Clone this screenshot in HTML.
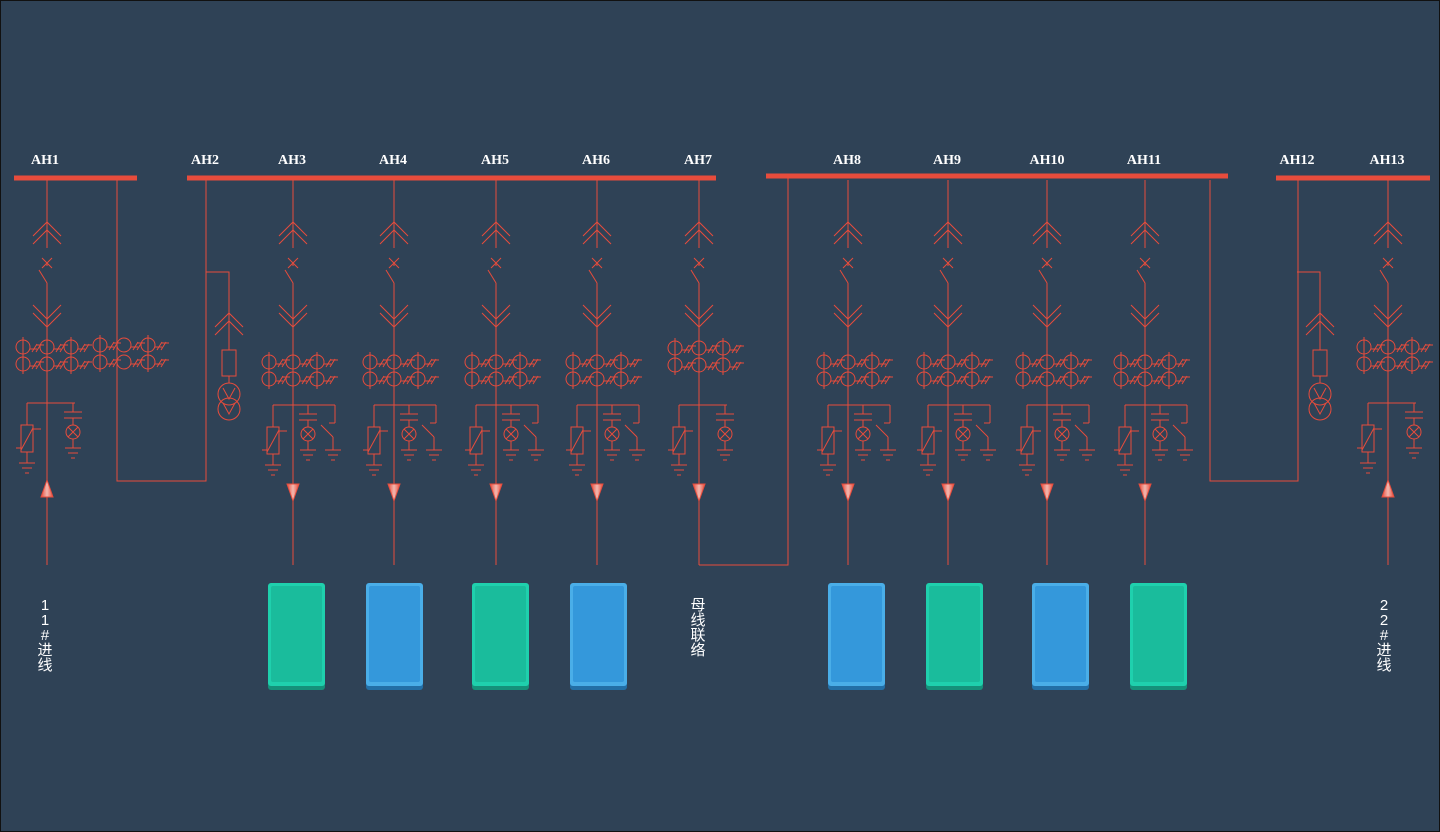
<!DOCTYPE html>
<html><head><meta charset="utf-8"><style>
html,body{margin:0;padding:0;background:#2f4256;}
svg{display:block}
.lbl{font-family:"Liberation Serif","Noto Serif CJK SC",serif;font-size:14px;font-weight:bold;fill:#fff}
.vt{font-family:"Liberation Sans","Noto Sans CJK SC",sans-serif;font-size:15px;fill:#fff}
</style></head><body>
<svg id="s" width="1440" height="832" xmlns="http://www.w3.org/2000/svg">
<defs>
<linearGradient id="tg" x1="0" x2="1"><stop offset="0" stop-color="#e74c3c"/><stop offset="0.5" stop-color="#f2b8b0"/><stop offset="1" stop-color="#e74c3c"/></linearGradient>
</defs>
<rect x="0.5" y="0.5" width="1439" height="831" fill="#2f4256" stroke="#111"/>
<g id="g" fill="none" stroke="#e74c3c" stroke-width="1"></g>
</svg>
<script>
const busBars=[[14,137,178],[187,716,178],[766,1228,176],[1276,1430,178]];
const labels=[["AH1",45],["AH2",205],["AH3",292],["AH4",393],["AH5",495],["AH6",596],["AH7",698],["AH8",847],["AH9",947],["AH10",1047],["AH11",1144],["AH12",1297],["AH13",1387]];
const feeders=[[293,362,1],[394,362,1],[496,362,1],[597,362,1],[699,348,0],[848,362,1],[948,362,1],[1047,362,1],[1145,362,1]];
const incomers=[47,1388];
const cabinets=[[268,"g"],[366,"b"],[472,"g"],[570,"b"],[828,"b"],[926,"g"],[1032,"b"],[1130,"g"]];
const S=document.getElementById('s'),G=document.getElementById('g');
const NS="http://www.w3.org/2000/svg";
function mk(t,a,p){const e=document.createElementNS(NS,t);for(const k in a)e.setAttribute(k,a[k]);(p||G).appendChild(e);return e;}
function L(x1,y1,x2,y2){return mk('line',{x1,y1,x2,y2});}
function P(d){return mk('path',{d});}
function C(cx,cy,r){return mk('circle',{cx,cy,r});}
busBars.forEach((b,i)=>{const r=mk('rect',{x:b[0],y:b[2]-2.5,width:b[1]-b[0],height:5,fill:'#e74c3c',stroke:'none'},S);

});
labels.forEach(l=>{const t=mk('text',{x:l[1],y:164,'text-anchor':'middle',class:'lbl'},S);t.textContent=l[0];

});
function upCh(x,y){P(`M${x-14},${y+14}L${x},${y}L${x+14},${y+14}M${x-14},${y+22}L${x},${y+8}L${x+14},${y+22}`);}
function dnCh(x,y){P(`M${x-14},${y}L${x},${y+14}L${x+14},${y}M${x-14},${y+8}L${x},${y+22}L${x+14},${y+8}`);}
function ct(x,y){for(let r=0;r<2;r++){const yy=y+r*17;[-24,0,24].forEach(dx=>{C(x+dx,yy,7);P(`M${x+dx+7},${yy+2}l7,0 M${x+dx+9},${yy+5}l5,-8 M${x+dx+13},${yy+5}l5,-8 M${x+dx+13},${yy-2}l8,0`);});}
L(x-24,y-10,x-24,y+27);L(x+24,y-10,x+24,y+27);}
function gnd(x,y){L(x-8,y,x+8,y);L(x-5,y+5,x+5,y+5);L(x-2,y+10,x+2,y+10);}
function bottom(x,y,sw){L(x-20,y,x+(sw?42:28),y);
L(x-20,y,x-20,y+22);mk('rect',{x:x-26,y:y+22,width:12,height:27});L(x-26,y+47,x-14,y+25);L(x-14,y+26,x-6,y+26);L(x-31,y+45,x-26,y+45);L(x-20,y+49,x-20,y+60);gnd(x-20,y+60);
const c=x+(sw?15:26);L(c,y,c,y+9);L(c-9,y+9,c+9,y+9);L(c-9,y+15,c+9,y+15);L(c,y+15,c,y+22);C(c,y+29,7);P(`M${c-5},${y+24}l10,10M${c+5},${y+24}l-10,10`);L(c,y+36,c,y+45);gnd(c,y+45);
if(sw){L(x+42,y,x+42,y+18);L(x+36,y+18,x+42,y+18);L(x+28,y+20,x+40,y+32);L(x+40,y+32,x+40,y+45);gnd(x+40,y+45);}}
function tri(x,y,up){mk('path',{d:up?`M${x},${y}L${x+6},${y+17}L${x-6},${y+17}Z`:`M${x-6},${y}L${x+6},${y}L${x},${y+17}Z`,fill:'url(#tg)',stroke:'#e74c3c'});}
function feederSym(x,ctY,sw,bottomY,up){upCh(x,222);P(`M${x-5},${258}l10,10M${x+5},${258}l-10,10`);L(x,180,x,248);L(x,263,x,266);
L(x-8,270,x,283);L(x,283,x,565);dnCh(x,305);ct(x,ctY);bottom(x,bottomY,sw);tri(x,up?480:484,up);}
feeders.forEach(f=>{feederSym(f[0],f[1],f[2],405,false);});
incomers.forEach(x=>{feederSym(x,347,0,403,true);});
function ptx(x){P(`M${x-23},272H${x}V290`);upCh(x,313);L(x,290,x,350);mk('rect',{x:x-7,y:350,width:14,height:26});L(x,376,x,383);C(x,394,11);C(x,409,11);P(`M${x-6},388l6,11l6,-11M${x-6},403l6,11l6,-11`);}
P('M117,180V481H206V180');ct(124,345);
ptx(229);
P('M1210,180V481H1298V180');
ptx(1320);
P('M699,565H788V178');
cabinets.forEach((c,i)=>{const col=c[1]=="g"?["#1abc9c","#1fd0ad","#15917a"]:["#3498db","#4aaee8","#236fa6"];
const g=mk('g',{},S);
mk('rect',{x:c[0],y:586,width:57,height:104,rx:3,fill:col[2]},g);
mk('rect',{x:c[0],y:583,width:57,height:103,rx:3,fill:col[1]},g);
mk('rect',{x:c[0]+3,y:586,width:51,height:96,rx:2,fill:col[0]},g);});
function vtext(x,y,s,n){const t=mk('text',{x:x,y:y,class:'vt','text-anchor':'middle'},S);
[...s].forEach((ch,i)=>{const ts=mk('tspan',{x:x,dy:i?15:0},t);ts.textContent=ch;});}
vtext(45,610,"11#进线","incoming-line-1-label");
vtext(698,610,"母线联络","bus-tie-label");
vtext(1384,610,"22#进线","incoming-line-2-label");
</script>
</body></html>
